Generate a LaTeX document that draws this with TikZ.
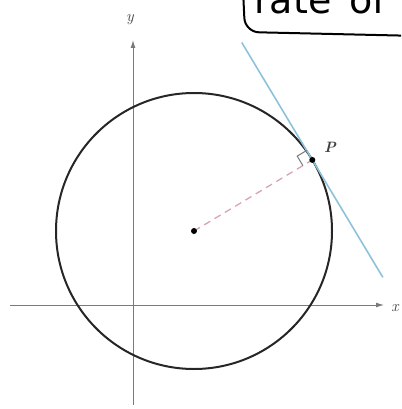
\documentclass[tikz,border=0pt]{standalone}
\usepackage{fontspec}
\newfontfamily\handfont{DejaVu Sans}
\usetikzlibrary{arrows.meta,calc}
\definecolor{axisgray}{HTML}{7A7A7A}
\definecolor{tanblue}{HTML}{8CC3DA}
\definecolor{radpink}{HTML}{D8A3B3}
\definecolor{circgray}{HTML}{262626}
\tikzset{
  axis/.style={draw=axisgray, line width=1pt, -{Latex[length=8pt,width=5pt]}},
  lbl/.style={font=\fontsize{16}{16}\selectfont\itshape, text=black!75, inner sep=0pt},
  dotnode/.style={circle, fill=black, inner sep=0pt, minimum size=6pt},
}
\begin{document}
\begin{tikzpicture}[x=1pt,y=-1pt]
\useasboundingbox (0,0) rectangle (401,409);
\clip (0,0) rectangle (401,409);
% handwritten note box
\draw[line width=2pt, rounded corners=14pt] (243,-10) -- (245,32) -- (420,36);
\node[anchor=base west, inner sep=0pt, font=\handfont\fontsize{38}{38}\selectfont] (note) at (254,14) {rate\hspace{18pt}of};
% axes
\coordinate (xs) at (10,305);
\coordinate (xe) at (384,305);
\coordinate (ys) at (133,405);
\coordinate (ye) at (133,40);
\draw[axis] (xs) -- (xe);
\draw[axis] (ys) -- (ye);
\node[lbl] (xl) at (395,308) {x};
\node[lbl] (yl) at (130,20) {y};
% circle
\coordinate (C) at (194,231);
\draw[circgray, line width=2pt] (C) circle (138);
% point P
\coordinate (P) at ($(C)+(-31:138)$);
% tangent line
\coordinate (T1) at ($(P)+(239:137)$);
\coordinate (T2) at ($(P)+(59:137)$);
\draw[tanblue, line width=1.6pt] (T1) -- (T2);
% radius
\draw[radpink, line width=1.3pt, dash pattern=on 7pt off 5pt] (C) -- (P);
% right angle mark
\coordinate (R1) at ($(P)!11pt!(C)$);
\coordinate (R2) at ($(R1)+(239:11)$);
\coordinate (R3) at ($(P)+(239:11)$);
\draw[axisgray, line width=1pt] (R1) -- (R2) -- (R3);
\node[dotnode] (cdot) at (C) {};
\node[dotnode] (pdot) at (P) {};
\node[lbl, font=\fontsize{15}{15}\selectfont\bfseries\itshape] (pl) at (330,147) {P};
\end{tikzpicture}
\end{document}
